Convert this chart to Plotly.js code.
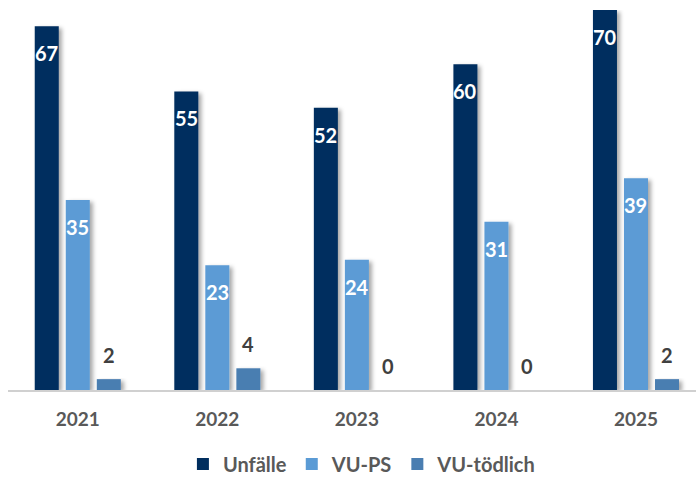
<!DOCTYPE html>
<html><head><meta charset="utf-8">
<script src="https://cdn.plot.ly/plotly-3.0.1.min.js"></script>
<style>
html,body{margin:0;padding:0;background:#fff;}
#chart{width:696px;height:477px;}
</style></head><body>
<div id="chart"></div>
<script>
const years = ['2021','2022','2023','2024','2025'];
const unfaelle = [67,55,52,60,70];
const vuPS = [35,23,24,31,39];
const vuToedlich = [2,4,0,0,2];
const seriesNames = ['Unfälle','VU-PS','VU-tödlich'];
const colors = ['#002E5E','#5B9BD5','#4A7EB1'];
const allSeries = [unfaelle, vuPS, vuToedlich];
const font = 'Lato, sans-serif';

const traces = allSeries.map((vals,k)=>({
  type:'bar', x:years, y:vals, name:seriesNames[k],
  marker:{color:colors[k]}, hoverinfo:'skip'
}));

const annotations = [];
allSeries.forEach((vals,k)=>{
  vals.forEach((v,i)=>{
    const inside = k<2;
    annotations.push({
      x:i, y:v, xref:'x', yref:'y', text:'<b>'+v+'</b>', showarrow:false,
      xshift:(k-1)*31, yshift: inside ? -27 : 24,
      font:{family:font, size:20, color: inside ? '#ffffff' : '#404040'}
    });
  });
});

const layout = {
  width:696, height:477,
  margin:{l:8,r:0,t:10,b:87},
  paper_bgcolor:'#fff', plot_bgcolor:'#fff',
  barmode:'group', bargap:0.333, bargroupgap:0.226,
  showlegend:true,
  legend:{orientation:'h', x:0.52, xanchor:'center', xref:'container', yref:'container', y:0.027, yanchor:'middle',
    font:{family:font, size:20, color:'#595959', weight:700}, itemclick:false},
  xaxis:{type:'category', range:[-0.5,4.43], showgrid:false, showline:true,
    linecolor:'#D0D0D0', linewidth:1.5, ticks:'', ticklabelstandoff:12,
    tickfont:{family:font, size:19, color:'#595959', weight:700}, fixedrange:true},
  yaxis:{range:[0,70], visible:false, showgrid:false, zeroline:false, fixedrange:true},
  annotations:annotations
};
Plotly.newPlot('chart', traces, layout, {displayModeBar:false, staticPlot:true}).then(gd=>{
  const NS='http://www.w3.org/2000/svg';
  const svg=gd.querySelector('.main-svg');
  let defs=svg.querySelector('defs');
  if(!defs){defs=document.createElementNS(NS,'defs');svg.insertBefore(defs,svg.firstChild);}
  const f=document.createElementNS(NS,'filter');
  f.setAttribute('id','barshadow');
  f.setAttribute('x','-30%');f.setAttribute('y','-10%');
  f.setAttribute('width','180%');f.setAttribute('height','130%');
  const ds=document.createElementNS(NS,'feDropShadow');
  ds.setAttribute('dx','3');ds.setAttribute('dy','2');
  ds.setAttribute('stdDeviation','2');
  ds.setAttribute('flood-color','#000');ds.setAttribute('flood-opacity','0.35');
  f.appendChild(ds);defs.appendChild(f);
  gd.querySelectorAll('.barlayer path').forEach(p=>p.setAttribute('filter','url(#barshadow)'));
});
</script></body></html>
